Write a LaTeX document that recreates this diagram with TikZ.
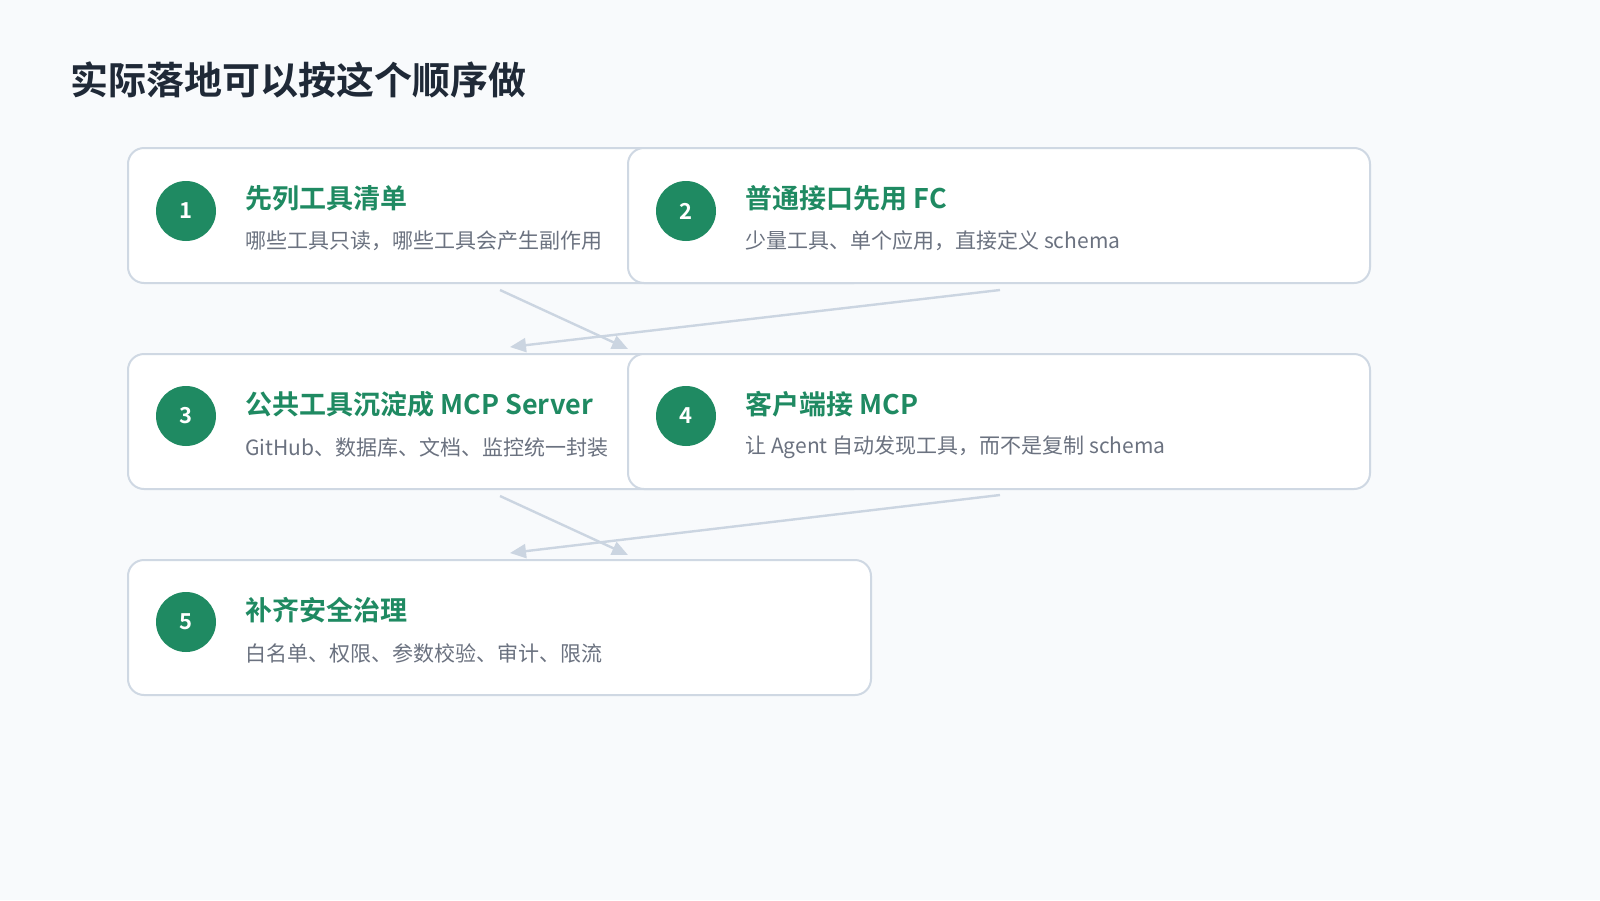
\documentclass[tikz,border=0pt]{standalone}
\usepackage{fontspec}
\setmainfont{Noto Sans CJK SC}
\newfontfamily\cjkb{Noto Sans CJK SC Bold}
\usetikzlibrary{arrows.meta}
\definecolor{bg}{HTML}{F8FAFC}
\definecolor{bd}{HTML}{CFD8E3}
\definecolor{gr}{HTML}{1F8A62}
\definecolor{tx}{HTML}{1F2937}
\definecolor{sub}{HTML}{6B7280}
\definecolor{ar}{HTML}{CBD5E1}
\begin{document}
\begin{tikzpicture}[x=0.5pt,y=-0.5pt,
  card/.style={draw=bd,line width=1pt,fill=white,rounded corners=8pt},
  num/.style={circle,fill=gr,minimum size=30pt,inner sep=0pt,text=white,font=\cjkb\fontsize{11}{13}\selectfont},
  ttl/.style={anchor=west,text=gr,font=\cjkb\fontsize{13.5}{16}\selectfont,inner sep=0pt},
  sb/.style={anchor=west,text=sub,font=\fontsize{10.5}{13}\selectfont,inner sep=0pt},
  arr/.style={draw=ar,line width=1.2pt,-{Triangle[length=8pt,width=7pt]}}]
\fill[bg] (0,0) rectangle (1600,900);
\useasboundingbox (0,0) rectangle (1600,900);
\node[anchor=west,text=tx,font=\cjkb\fontsize{19}{22}\selectfont,inner sep=0pt] (title) at (70,80) {实际落地可以按这个顺序做};
% row 1
\draw[card] (128,148) rectangle (870,283);
\node[num] (n1) at (186,211) {1};
\node[ttl] (t1) at (245,198) {先列工具清单};
\node[sb] (s1) at (245,241) {哪些工具只读，哪些工具会产生副作用};
\draw[card] (628,148) rectangle (1370,283);
\node[num] (n2) at (686,211) {2};
\node[ttl] (t2) at (745,198) {普通接口先用 FC};
\node[sb] (s2) at (745,241) {少量工具、单个应用，直接定义 schema};
% row 2
\draw[card] (128,354) rectangle (870,489);
\node[num] (n3) at (186,416) {3};
\node[ttl] (t3) at (245,404) {公共工具沉淀成 MCP Server};
\node[sb] (s3) at (245,447) {GitHub、数据库、文档、监控统一封装};
\draw[card] (628,354) rectangle (1370,489);
\node[num] (n4) at (686,416) {4};
\node[ttl] (t4) at (745,404) {客户端接 MCP};
\node[sb] (s4) at (745,447) {让 Agent 自动发现工具，而不是复制 schema};
% row 3
\draw[card] (128,560) rectangle (871,695);
\node[num] (n5) at (186,622) {5};
\node[ttl] (t5) at (245,610) {补齐安全治理};
\node[sb] (s5) at (245,653) {白名单、权限、参数校验、审计、限流};
% arrows
\coordinate (a1) at (500,290); \coordinate (b1) at (628,349);
\coordinate (a2) at (1000,290); \coordinate (b2) at (510,347);
\coordinate (a3) at (500,496); \coordinate (b3) at (628,555);
\coordinate (a4) at (1000,495); \coordinate (b4) at (510,553);
\draw[arr] (a1) -- (b1);
\draw[arr] (a2) -- (b2);
\draw[arr] (a3) -- (b3);
\draw[arr] (a4) -- (b4);
\end{tikzpicture}
\end{document}
